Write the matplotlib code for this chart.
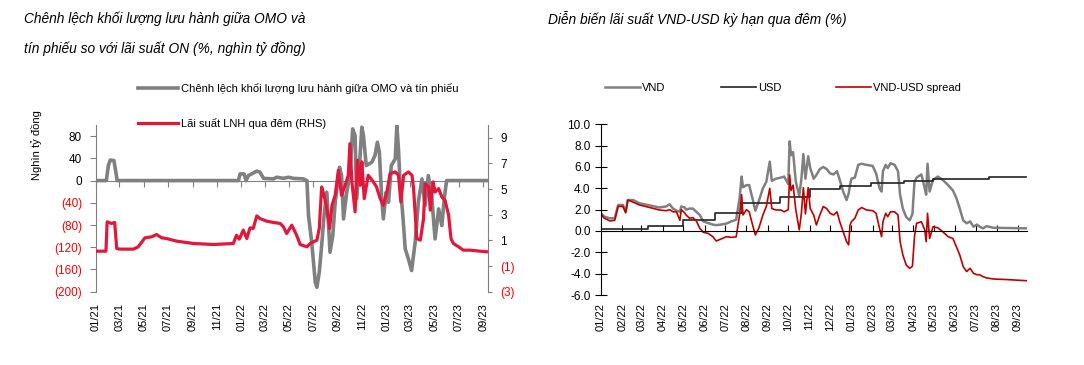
import matplotlib
matplotlib.use("Agg")
import matplotlib.pyplot as plt
import matplotlib.dates as mdates
import pandas as pd

plt.rcParams['font.family'] = ['Liberation Sans Narrow', 'Liberation Sans', 'DejaVu Sans']

# ---- left chart: OMO vs bills outstanding gap (LHS) and interbank ON rate (RHS)
omo_dates = ["2021-01-01", "2021-01-27", "2021-02-01", "2021-02-06", "2021-02-15", "2021-02-20", "2021-02-23", "2021-12-25", "2021-12-29", "2022-01-08",
             "2022-01-13", "2022-01-19", "2022-01-27", "2022-02-09", "2022-02-17", "2022-02-26", "2022-03-23", "2022-03-31", "2022-04-17", "2022-04-30",
             "2022-05-12", "2022-06-06", "2022-06-15", "2022-06-19", "2022-06-27", "2022-07-06", "2022-07-10", "2022-07-16", "2022-07-22", "2022-07-28",
             "2022-08-04", "2022-08-12", "2022-08-19", "2022-08-25", "2022-09-05", "2022-09-10", "2022-09-15", "2022-09-23", "2022-10-01", "2022-10-08",
             "2022-10-14", "2022-10-18", "2022-10-25", "2022-10-31", "2022-11-04", "2022-11-11", "2022-11-25", "2022-12-03", "2022-12-09", "2022-12-14",
             "2022-12-20", "2022-12-24", "2022-12-31", "2023-01-06", "2023-01-13", "2023-01-23", "2023-01-27", "2023-01-31", "2023-02-04", "2023-02-11",
             "2023-02-17", "2023-02-25", "2023-03-05", "2023-03-14", "2023-03-22", "2023-03-31", "2023-04-08", "2023-04-16", "2023-04-25", "2023-05-03",
             "2023-05-12", "2023-05-20", "2023-05-26", "2023-06-01", "2023-09-12"]
omo_gap = [0, 0, 27, 37, 36, 15, 0, 0, 12, 12,
           0, 9, 12, 17, 15, 4, 3, 6, 4, 6,
           4, 3, 0, -63, -111, -183, -192, -165, -117, -63,
           -21, -129, -99, -39, 24, 9, -69, -21, 9, 93,
           81, -33, 27, 96, 81, 27, 33, 45, 69, 51,
           -33, -69, -21, -39, 27, 39, 99, 57, -3, -63,
           -123, -141, -162, -111, -39, 3, -45, 9, -33, -105,
           -51, -81, -33, 0, 0]

on_dates = ["2021-01-01", "2021-01-26", "2021-01-29", "2021-02-09", "2021-02-17", "2021-02-22", "2021-03-02", "2021-04-05", "2021-04-17", "2021-05-04",
            "2021-05-21", "2021-06-02", "2021-06-15", "2021-06-27", "2021-07-23", "2021-09-03", "2021-10-23", "2021-12-12", "2021-12-20", "2021-12-27",
            "2022-01-06", "2022-01-15", "2022-01-23", "2022-01-31", "2022-02-09", "2022-02-17", "2022-03-06", "2022-03-23", "2022-04-09", "2022-04-17",
            "2022-04-25", "2022-05-08", "2022-05-20", "2022-05-29", "2022-06-15", "2022-06-23", "2022-07-10", "2022-07-16", "2022-07-22", "2022-07-28",
            "2022-08-04", "2022-08-11", "2022-08-17", "2022-08-25", "2022-09-02", "2022-09-10", "2022-09-19", "2022-09-27", "2022-10-01", "2022-10-06",
            "2022-10-14", "2022-10-20", "2022-10-27", "2022-10-31", "2022-11-06", "2022-11-16", "2022-11-29", "2022-12-07", "2022-12-16", "2022-12-24",
            "2023-01-02", "2023-01-10", "2023-01-23", "2023-01-31", "2023-02-06", "2023-02-13", "2023-02-25", "2023-03-06", "2023-03-10", "2023-03-18",
            "2023-03-27", "2023-04-04", "2023-04-08", "2023-04-17", "2023-04-21", "2023-04-28", "2023-05-03", "2023-05-12", "2023-05-20", "2023-05-28",
            "2023-06-06", "2023-06-12", "2023-06-18", "2023-07-01", "2023-07-13", "2023-07-30", "2023-08-24", "2023-09-12"]
on_rate = [0.16, 0.16, 2.45, 2.32, 2.4, 0.37, 0.32, 0.32, 0.5, 1.2,
           1.28, 1.46, 1.2, 1.15, 0.94, 0.76, 0.68, 0.76, 1.4, 1.1,
           1.8, 1.15, 1.98, 1.93, 2.91, 2.7, 2.5, 2.4, 2.32, 2.06,
           1.54, 2.19, 1.41, 0.68, 0.5, 0.76, 1.02, 1.93, 5.17, 4.52,
           3.49, 1.93, 3.74, 4.52, 6.47, 4.52, 5.3, 6.08, 8.54, 5.56,
           3.23, 7.25, 5.3, 7.12, 4.26, 6.08, 5.56, 5.17, 4.26, 3.74,
           4.78, 6.21, 6.34, 6.08, 4.0, 6.08, 6.34, 6.08, 5.04, 1.15,
           1.02, 2.71, 5.43, 5.17, 3.36, 5.56, 4.78, 5.04, 4.39, 4.13,
           2.97, 1.15, 0.76, 0.5, 0.24, 0.24, 0.16, 0.11]

left_ticks = [-200, -160, -120, -80, -40, 0, 40, 80]
rhs_ticks = [-3, -1, 1, 3, 5, 7, 9]

# ---- right chart: VND / USD overnight rates
rate_dates = ["2022-01-01", "2022-01-06", "2022-01-14", "2022-01-21", "2022-01-26", "2022-02-02", "2022-02-06", "2022-02-09", "2022-02-17", "2022-02-26",
              "2022-03-13", "2022-03-27", "2022-04-06", "2022-04-11", "2022-04-16", "2022-04-21", "2022-04-26", "2022-04-28", "2022-05-03", "2022-05-05",
              "2022-05-10", "2022-05-15", "2022-05-20", "2022-05-25", "2022-05-30", "2022-06-06", "2022-06-13", "2022-06-18", "2022-06-25", "2022-07-03",
              "2022-07-10", "2022-07-17", "2022-07-22", "2022-07-25", "2022-07-27", "2022-08-01", "2022-08-05", "2022-08-10", "2022-08-14", "2022-08-19",
              "2022-08-25", "2022-08-30", "2022-09-04", "2022-09-07", "2022-09-13", "2022-09-20", "2022-09-25", "2022-10-01", "2022-10-03", "2022-10-05",
              "2022-10-08", "2022-10-12", "2022-10-17", "2022-10-20", "2022-10-23", "2022-10-26", "2022-10-30", "2022-11-02", "2022-11-07", "2022-11-11",
              "2022-11-16", "2022-11-21", "2022-11-26", "2022-12-01", "2022-12-06", "2022-12-11", "2022-12-15", "2022-12-20", "2022-12-25", "2022-12-28",
              "2022-12-30", "2023-01-01", "2023-01-06", "2023-01-11", "2023-01-16", "2023-01-23", "2023-02-01", "2023-02-06", "2023-02-11", "2023-02-14",
              "2023-02-16", "2023-02-20", "2023-02-23", "2023-02-27", "2023-03-05", "2023-03-10", "2023-03-13", "2023-03-17", "2023-03-22", "2023-03-27",
              "2023-03-31", "2023-04-03", "2023-04-06", "2023-04-13", "2023-04-18", "2023-04-20", "2023-04-22", "2023-04-25", "2023-04-30", "2023-05-07",
              "2023-05-14", "2023-05-22", "2023-05-29", "2023-06-03", "2023-06-08", "2023-06-13", "2023-06-18", "2023-06-23", "2023-06-28", "2023-07-03",
              "2023-07-07", "2023-07-12", "2023-07-17", "2023-07-27", "2023-08-15", "2023-09-13"]
vnd_rate = [1.66, 1.34, 1.19, 1.19, 2.44, 2.44, 1.8, 2.9, 2.9, 2.6,
            2.4, 2.2, 2.3, 2.5, 2.1, 1.9, 1.8, 2.3, 2.2, 2.0,
            2.1, 2.1, 1.8, 1.5, 0.9, 0.75, 0.6, 0.55, 0.6, 0.7,
            0.9, 1.05, 3.06, 5.1, 4.1, 4.3, 4.3, 3.0, 1.9, 2.8,
            4.0, 4.6, 6.5, 4.7, 4.9, 5.0, 5.1, 4.4, 8.4, 7.1,
            7.4, 4.6, 3.3, 4.8, 7.2, 4.9, 7.0, 5.9, 4.9, 5.25,
            5.8, 6.0, 5.8, 5.4, 5.3, 5.6, 4.8, 3.7, 2.9, 3.5,
            4.3, 4.9, 5.0, 6.2, 6.3, 6.2, 6.1, 5.4, 4.0, 3.7,
            5.6, 6.2, 5.9, 6.35, 6.2, 5.6, 3.4, 2.1, 1.3, 1.0,
            1.6, 4.6, 5.0, 5.3, 4.0, 3.4, 6.3, 3.7, 4.8, 5.1,
            4.8, 4.3, 3.8, 3.1, 2.1, 1.0, 0.72, 0.9, 0.4, 0.6,
            0.4, 0.25, 0.45, 0.3, 0.28, 0.25]
spread = [1.56, 1.19, 0.94, 1.0, 2.3, 2.3, 1.7, 2.9, 2.7, 2.44,
          2.2, 1.97, 1.9, 2.0, 1.8, 1.8, 1.0, 2.0, 1.7, 1.5,
          1.2, 1.25, 0.94, 0.25, -0.12, -0.22, -0.53, -0.94, -0.75, -0.53,
          -0.6, -0.55, 1.5, 3.4, 1.5, 2.0, 1.8, 0.56, -0.37, 0.25,
          1.5, 2.3, 4.0, 2.1, 1.97, 1.97, 1.8, 2.0, 5.25, 3.8,
          4.3, 1.97, 0.1, 1.6, 4.06, 1.6, 4.06, 2.1, 1.5, 0.56,
          1.5, 2.3, 2.1, 1.66, 1.5, 1.8, 0.87, -0.06, -1.0, -1.3,
          0.56, 0.87, 1.19, 1.97, 2.2, 1.97, 1.9, 1.66, 0.25, -0.53,
          0.87, 1.66, 1.34, 1.8, 1.8, 1.5, -1.0, -2.25, -3.2, -3.5,
          -3.3, -0.5, 0.72, 0.87, 0.1, -1.0, 1.66, -0.7, 0.4, 0.3,
          -0.06, -0.53, -0.7, -1.47, -2.25, -3.34, -3.8, -3.5, -3.97, -4.1,
          -4.1, -4.28, -4.4, -4.5, -4.55, -4.66]

usd_dates = ["2022-01-01", "2022-03-10", "2022-05-01", "2022-06-16", "2022-07-26", "2022-09-19", "2022-11-01",
             "2022-12-15", "2023-01-30", "2023-03-19", "2023-04-30", "2023-07-20", "2023-09-13"]
usd_rate = [0.15, 0.45, 1.0, 1.65, 2.6, 3.2, 3.95, 4.25, 4.47, 4.69, 4.84, 5.03, 5.03]

right_ticks = [-6, -4, -2, 0, 2, 4, 6, 8, 10]

GREY = '#808080'
RED_L = '#e3173b'
RED_R = '#c00000'


def paren(v):
    return '(%g)' % abs(v) if v < 0 else '%g' % v


fig = plt.figure(figsize=(10.84, 3.65), dpi=100)

# titles
fig.text(24 / 1084, 1 - 19 / 365, 'Chênh lệch khối lượng lưu hành giữa OMO và',
         style='italic', fontsize=9.9, va='center')
fig.text(24 / 1084, 1 - 49 / 365, 'tín phiếu so với lãi suất ON (%, nghìn tỷ đồng)',
         style='italic', fontsize=9.9, va='center')
fig.text(548 / 1084, 1 - 19 / 365, 'Diễn biến lãi suất VND-USD kỳ hạn qua đêm (%)',
         style='italic', fontsize=9.9, va='center')

# ---------------- left chart
ax1 = fig.add_axes([96 / 1084, 1 - 291.7 / 365, 392 / 1084, 166.7 / 365])
l1, = ax1.plot(pd.to_datetime(omo_dates), omo_gap, color=GREY, lw=2.6,
               label='Chênh lệch khối lượng lưu hành giữa OMO và tín phiếu')
ax1.set_ylim(-200, 100)
ax1.set_xlim(pd.Timestamp('2021-01-01'), pd.Timestamp('2023-09-13'))
ax1.set_yticks(left_ticks)
ax1.set_yticklabels([paren(v) for v in left_ticks])
for lab, v in zip(ax1.get_yticklabels(), left_ticks):
    lab.set_color('red' if v < 0 else 'black')
ax1.spines['top'].set_visible(False)
ax1.spines['right'].set_visible(False)
ax1.spines['left'].set_color(GREY)
ax1.spines['bottom'].set_position(('data', 0))
ax1.spines['bottom'].set_color(GREY)
ax1.xaxis.set_major_locator(mdates.MonthLocator(bymonth=[1, 3, 5, 7, 9, 11]))
ax1.xaxis.set_major_formatter(mdates.DateFormatter('%m/%y'))
ax1.tick_params(axis='x', direction='out', length=4, color=GREY, pad=84,
                labelrotation=90, labelsize=8)
ax1.tick_params(axis='y', direction='out', length=4, color=GREY, labelsize=8.5, pad=6)
fig.text(37 / 1084, 1 - 145 / 365, 'Nghìn tỷ đồng', rotation=90, fontsize=8,
         ha='center', va='center')

ax2 = ax1.twinx()
l2, = ax2.plot(pd.to_datetime(on_dates), on_rate, color=RED_L, lw=2.3,
               label='Lãi suất LNH qua đêm (RHS)')
ax2.set_ylim(-3, 10)
ax2.set_yticks(rhs_ticks)
ax2.set_yticklabels([paren(v) for v in rhs_ticks])
for lab, v in zip(ax2.get_yticklabels(), rhs_ticks):
    lab.set_color('red' if v < 0 else 'black')
for s in ['top', 'bottom', 'left']:
    ax2.spines[s].set_visible(False)
ax2.spines['right'].set_color(GREY)
ax2.tick_params(axis='y', direction='out', length=3, color=GREY, labelsize=8.5, pad=6)

fig.legend(handles=[l1, l2], loc='upper left', bbox_to_anchor=(138 / 1084, 1 - 83 / 365),
           frameon=False, fontsize=8, handlelength=3.6, handletextpad=0.25,
           labelspacing=2.15, borderpad=0, borderaxespad=0)

# ---------------- right chart
ax3 = fig.add_axes([601 / 1084, 1 - 295 / 365, 426 / 1084, 170.7 / 365])
v1, = ax3.plot(pd.to_datetime(rate_dates), vnd_rate, color=GREY, lw=1.8, label='VND')
v2, = ax3.plot(pd.to_datetime(usd_dates), usd_rate, color='#222222', lw=1.2,
               drawstyle='steps-post', label='USD')
v3, = ax3.plot(pd.to_datetime(rate_dates), spread, color=RED_R, lw=1.2, label='VND-USD spread')
ax3.set_ylim(-6, 10)
ax3.set_xlim(pd.Timestamp('2022-01-01'), pd.Timestamp('2023-09-14'))
ax3.set_yticks(right_ticks)
ax3.set_yticklabels(['%.1f' % v for v in right_ticks])
ax3.spines['top'].set_visible(False)
ax3.spines['right'].set_visible(False)
ax3.spines['bottom'].set_position(('data', 0))
ax3.xaxis.set_major_locator(mdates.MonthLocator())
ax3.xaxis.set_major_formatter(mdates.DateFormatter('%m/%y'))
ax3.tick_params(axis='x', direction='in', length=4, pad=52, labelrotation=90, labelsize=8)
ax3.tick_params(axis='y', direction='inout', length=9, labelsize=8.5, pad=3)

fig.legend(handles=[v1, v2, v3], loc='upper left', bbox_to_anchor=(605 / 1084, 1 - 83 / 365),
           ncol=3, frameon=False, fontsize=8, handlelength=3.15, handletextpad=0.2,
           columnspacing=4.95, borderpad=0, borderaxespad=0)

fig.savefig('out.png', dpi=100)
